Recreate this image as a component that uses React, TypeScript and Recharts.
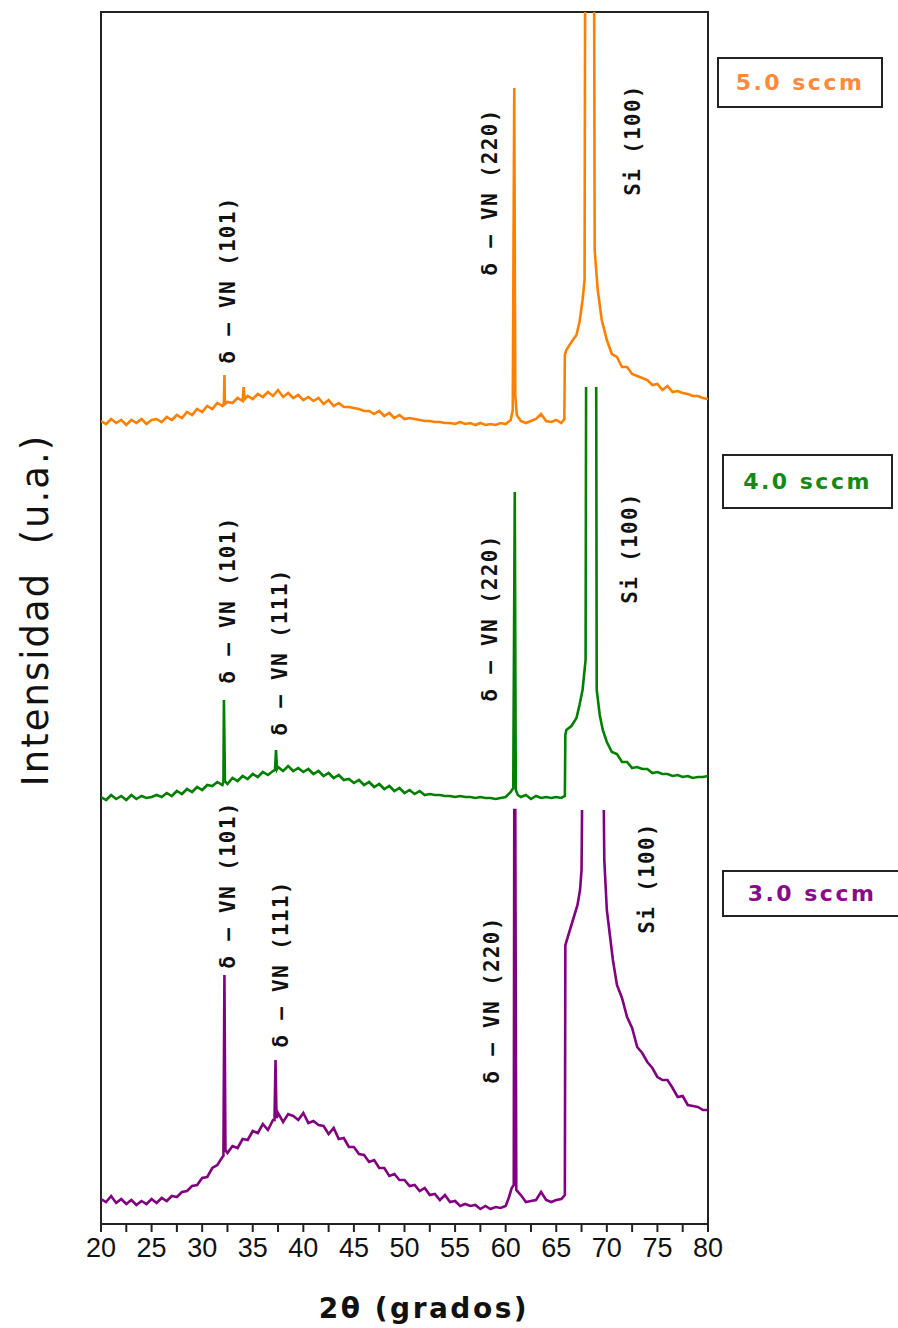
import { LineChart, Line, XAxis, YAxis, ReferenceArea, ReferenceDot } from 'recharts'

// 2θ (deg) vs intensity (a.u., traces stacked with their own offsets)
const trace50: [number, number | null][] = [
  [20, 803], [20.5, 800], [21, 805], [21.5, 801], [22, 804], [22.5, 799], [23, 804], [23.5, 801],
  [24, 805], [24.5, 800], [25, 804], [25.5, 805], [26, 802], [26.5, 807], [27, 804], [27.5, 809],
  [28, 806], [28.5, 812], [29, 809], [29.5, 815], [30, 812], [30.5, 818], [31, 815], [31.5, 821],
  [32, 818], [32.15, 821], [32.2, 849], [32.25, 820], [32.5, 822], [33, 821], [33.5, 826], [34, 823],
  [34.1, 837], [34.2, 825], [34.5, 828], [35, 825], [35.5, 830], [36, 827], [36.5, 832], [37, 828],
  [37.5, 834], [38, 827], [38.5, 831], [39, 826], [39.5, 829], [40, 824], [40.5, 827], [41, 823],
  [41.5, 826], [42, 820], [42.5, 824], [43, 818], [43.5, 821], [44, 817], [44.5, 817], [45, 816],
  [45.5, 815], [46, 813], [46.5, 813], [47, 810], [47.5, 813], [48, 808], [48.5, 811], [49, 806],
  [49.5, 809], [50, 805], [50.5, 806], [51, 805], [51.5, 804], [52, 803], [52.5, 803], [53, 802],
  [53.5, 802], [54, 801], [54.5, 801], [55, 800], [55.5, 802], [56, 800], [56.5, 801], [57, 799],
  [57.5, 801], [58, 799], [58.5, 800], [59, 799], [59.5, 801], [60, 800], [60.5, 804], [60.7, 814],
  [60.85, 1136], [60.95, 829], [61.1, 809], [61.5, 803], [62, 801], [62.5, 803], [63, 805], [63.5, 810],
  [64, 803], [64.5, 802], [65, 804], [65.5, 801], [65.8, 805], [65.85, 869], [66, 874], [66.5, 882],
  [67, 889], [67.3, 902], [67.6, 924], [67.8, 944], [67.85, 1212], [68.3, null], [68.75, 1212],
  [68.8, 974], [69.1, 934], [69.5, 904], [70, 884], [70.5, 870], [71, 867], [71.5, 857], [72, 857],
  [72.5, 850], [73, 848], [73.5, 846], [74, 844], [74.5, 839], [75, 840], [75.5, 834], [76, 838],
  [76.5, 832], [77, 833], [77.5, 831], [78, 830], [78.5, 828], [79, 828], [79.5, 826], [80, 825],
]

const trace40: [number, number | null][] = [
  [20, 427], [20.5, 424], [21, 429], [21.5, 425], [22, 428], [22.5, 424], [23, 429], [23.5, 425],
  [24, 428], [24.5, 426], [25, 427], [25.5, 429], [26, 427], [26.5, 431], [27, 428], [27.5, 433],
  [28, 430], [28.5, 435], [29, 432], [29.5, 437], [30, 434], [30.5, 439], [31, 438], [31.5, 442],
  [32, 439], [32.1, 442], [32.15, 524], [32.25, 443], [32.5, 440], [33, 446], [33.5, 443], [34, 448],
  [34.5, 445], [35, 450], [35.5, 447], [36, 452], [36.5, 449], [37, 453], [37.2, 454], [37.3, 474],
  [37.4, 455], [37.5, 457], [38, 453], [38.5, 458], [39, 453], [39.5, 456], [40, 452], [40.5, 455],
  [41, 450], [41.5, 453], [42, 448], [42.5, 451], [43, 446], [43.5, 449], [44, 444], [44.5, 445],
  [45, 441], [45.5, 444], [46, 439], [46.5, 442], [47, 437], [47.5, 440], [48, 435], [48.5, 438],
  [49, 433], [49.5, 436], [50, 431], [50.5, 434], [51, 430], [51.5, 433], [52, 429], [52.5, 430],
  [53, 429], [53.5, 429], [54, 428], [54.5, 428], [55, 427], [55.5, 428], [56, 427], [56.5, 427],
  [57, 426], [57.5, 427], [58, 426], [58.5, 426], [59, 425], [59.5, 426], [60, 427], [60.5, 432],
  [60.75, 436], [60.9, 732], [61, 434], [61.2, 429], [61.5, 427], [62, 429], [62.5, 425], [63, 428],
  [63.5, 426], [64, 427], [64.5, 426], [65, 427], [65.5, 426], [65.85, 428], [65.9, 489], [66, 494],
  [66.5, 498], [67, 506], [67.3, 519], [67.6, 534], [67.9, 564], [67.95, 837], [68.4, null],
  [68.95, 837], [69, 534], [69.3, 509], [69.6, 494], [70, 482], [70.5, 472], [71, 470], [71.5, 462],
  [72, 462], [72.5, 456], [73, 457], [73.5, 455], [74, 455], [74.5, 451], [75, 452], [75.5, 450],
  [76, 450], [76.5, 448], [77, 449], [77.5, 447], [78, 448], [78.5, 446], [79, 447], [79.5, 447], [80, 448],
]

const trace30: [number, number | null][] = [
  [20, 25], [20.5, 22], [21, 28], [21.5, 21], [22, 25], [22.5, 20], [23, 24], [23.5, 19],
  [24, 23], [24.5, 20], [25, 25], [25.5, 21], [26, 26], [26.5, 23], [27, 28], [27.5, 27],
  [28, 32], [28.5, 33], [29, 38], [29.5, 39], [30, 46], [30.5, 47], [31, 56], [31.5, 59],
  [32, 67], [32.1, 68], [32.2, 249], [32.3, 74], [32.5, 71], [33, 78], [33.5, 76], [34, 85],
  [34.5, 84], [35, 93], [35.5, 91], [36, 100], [36.5, 94], [37, 104], [37.15, 104], [37.25, 164],
  [37.35, 106], [37.5, 111], [38, 102], [38.5, 110], [39, 108], [39.5, 104], [40, 111], [40.5, 101],
  [41, 103], [41.5, 99], [42, 98], [42.5, 90], [43, 96], [43.5, 85], [44, 86], [44.5, 77],
  [45, 77], [45.5, 70], [46, 69], [46.5, 62], [47, 64], [47.5, 56], [48, 56], [48.5, 48],
  [49, 50], [49.5, 44], [50, 44], [50.5, 38], [51, 39], [51.5, 33], [52, 36], [52.5, 29],
  [53, 30], [53.5, 24], [54, 29], [54.5, 22], [55, 23], [55.5, 18], [56, 20], [56.5, 18],
  [57, 19], [57.5, 15], [58, 18], [58.5, 15], [59, 17], [59.5, 16], [60, 18], [60.3, 26],
  [60.6, 36], [60.8, 39], [60.85, 414], [60.95, 414], [61.05, 34], [61.5, 29], [62, 22], [62.5, 23],
  [63, 24], [63.5, 32], [64, 24], [64.5, 22], [65, 24], [65.5, 25], [65.85, 29], [65.9, 279],
  [66.2, 289], [66.5, 299], [66.8, 309], [67.1, 319], [67.35, 334], [67.5, 354], [67.55, 414],
  [68.6, null], [69.7, 414], [69.75, 364], [70, 314], [70.3, 289], [70.6, 264], [71, 239],
  [71.5, 226], [72, 207], [72.5, 196], [73, 177], [73.5, 171], [74, 162], [74.5, 156], [75, 147],
  [75.5, 144], [76, 144], [76.5, 136], [77, 127], [77.5, 128], [78, 119], [78.5, 118], [79, 117],
  [79.5, 114], [80, 114],
]

const xTicks = [20, 22.5, 25, 27.5, 30, 32.5, 35, 37.5, 40, 42.5, 45, 47.5, 50, 52.5, 55, 57.5, 60, 62.5, 65, 67.5, 70, 72.5, 75, 77.5, 80]

// peak labels: 2θ position, label centre (intensity), text
const peakLabels: [number, number, string][] = [
  [32.55, 944, 'δ – VN (101)'],
  [58.45, 1032, 'δ – VN (220)'],
  [72.6, 1084, 'Si (100)'],
  [32.55, 624, 'δ – VN (101)'],
  [37.7, 572, 'δ – VN (111)'],
  [58.45, 606, 'δ – VN (220)'],
  [72.3, 676, 'Si (100)'],
  [32.55, 339, 'δ – VN (101)'],
  [37.8, 260, 'δ – VN (111)'],
  [58.65, 224, 'δ – VN (220)'],
  [73.95, 346, 'Si (100)'],
]

const seriesNames = ['5.0 sccm', '4.0 sccm', '3.0 sccm']
const seriesColors = ['#ff8000', '#008000', '#800080']
const legendTextColors = ['#ff8a3d', '#138a13', '#8a0a8a']

const toRows = (t: [number, number | null][]) => t.map(([x, v]) => ({ x, v }))

const XTick = ({ x, y, payload }: any) => {
  const major = payload.value % 5 === 0
  return (
    <g>
      <line x1={x} x2={x} y1={y} y2={y + 8} stroke="#222" strokeWidth={2} />
      {major && (
        <text x={x} y={y + 33} textAnchor="middle" fontFamily="Liberation Sans" fontSize={27} fill="#111">
          {payload.value}
        </text>
      )}
    </g>
  )
}

const PeakText = (text: string) => (props: any) => (
  <text
    x={props.cx} y={props.cy}
    transform={`rotate(-90 ${props.cx} ${props.cy})`}
    textAnchor="middle" dominantBaseline="central"
    fontFamily="DejaVu Sans Mono" fontWeight="bold" fontSize={21} letterSpacing={1.3} fill="#111"
  >
    {text}
  </text>
)

const legendBoxes = [
  { left: 717, top: 57, width: 166, height: 51 },
  { left: 722, top: 454, width: 171, height: 55 },
  { left: 722, top: 870, width: 180, height: 47 },
]

export default function App() {
  const traces = [trace50, trace40, trace30]
  return (
    <div style={{ position: 'absolute', left: 0, top: 0, width: 898, height: 1328, background: '#fff' }}>
      <LineChart width={898} height={1328} margin={{ top: 12, right: 190, bottom: 74, left: 101 }}>
        <XAxis
          type="number" dataKey="x" domain={[20, 80]} ticks={xTicks} interval={0}
          tick={<XTick />} tickLine={false} tickSize={0} tickMargin={0} height={30}
          axisLine={{ stroke: '#222', strokeWidth: 2 }} allowDataOverflow
        />
        <YAxis type="number" domain={[0, 1212]} hide allowDataOverflow />
        <ReferenceArea x1={20} x2={80} y1={0} y2={1212} fill="none" stroke="#222" strokeWidth={2} />
        {traces.map((t, i) => (
          <Line
            key={seriesNames[i]} name={seriesNames[i]} data={toRows(t)} dataKey="v"
            type="linear" stroke={seriesColors[i]} strokeWidth={2.6} dot={false}
            connectNulls={false} isAnimationActive={false}
          />
        ))}
        {peakLabels.map(([x, y, text], i) => (
          <ReferenceDot key={i} x={x} y={y} r={0} shape={PeakText(text)} />
        ))}
      </LineChart>
      <svg width={898} height={1328} style={{ position: 'absolute', left: 0, top: 0, pointerEvents: 'none' }}>
        <text
          x={35} y={610} transform="rotate(-90 35 610)" textAnchor="middle" dominantBaseline="central"
          fontFamily="DejaVu Sans" fontSize={37} letterSpacing={2} fill="#111"
        >
          Intensidad{'\u00a0\u00a0'}(u.a.)
        </text>
        <text
          x={424} y={1318} textAnchor="middle"
          fontFamily="DejaVu Sans" fontWeight="bold" fontSize={28} letterSpacing={2.5} fill="#111"
        >
          2θ (grados)
        </text>
      </svg>
      {legendBoxes.map((b, i) => (
        <div
          key={i}
          style={{
            position: 'absolute', left: b.left, top: b.top, width: b.width - 4, height: b.height - 4,
            border: '2px solid #222', display: 'flex', alignItems: 'center', justifyContent: 'center',
            fontFamily: 'DejaVu Sans', fontWeight: 'bold', fontSize: 22, letterSpacing: 2.5,
            color: legendTextColors[i], boxSizing: 'content-box',
          }}
        >
          {seriesNames[i]}
        </div>
      ))}
    </div>
  )
}
